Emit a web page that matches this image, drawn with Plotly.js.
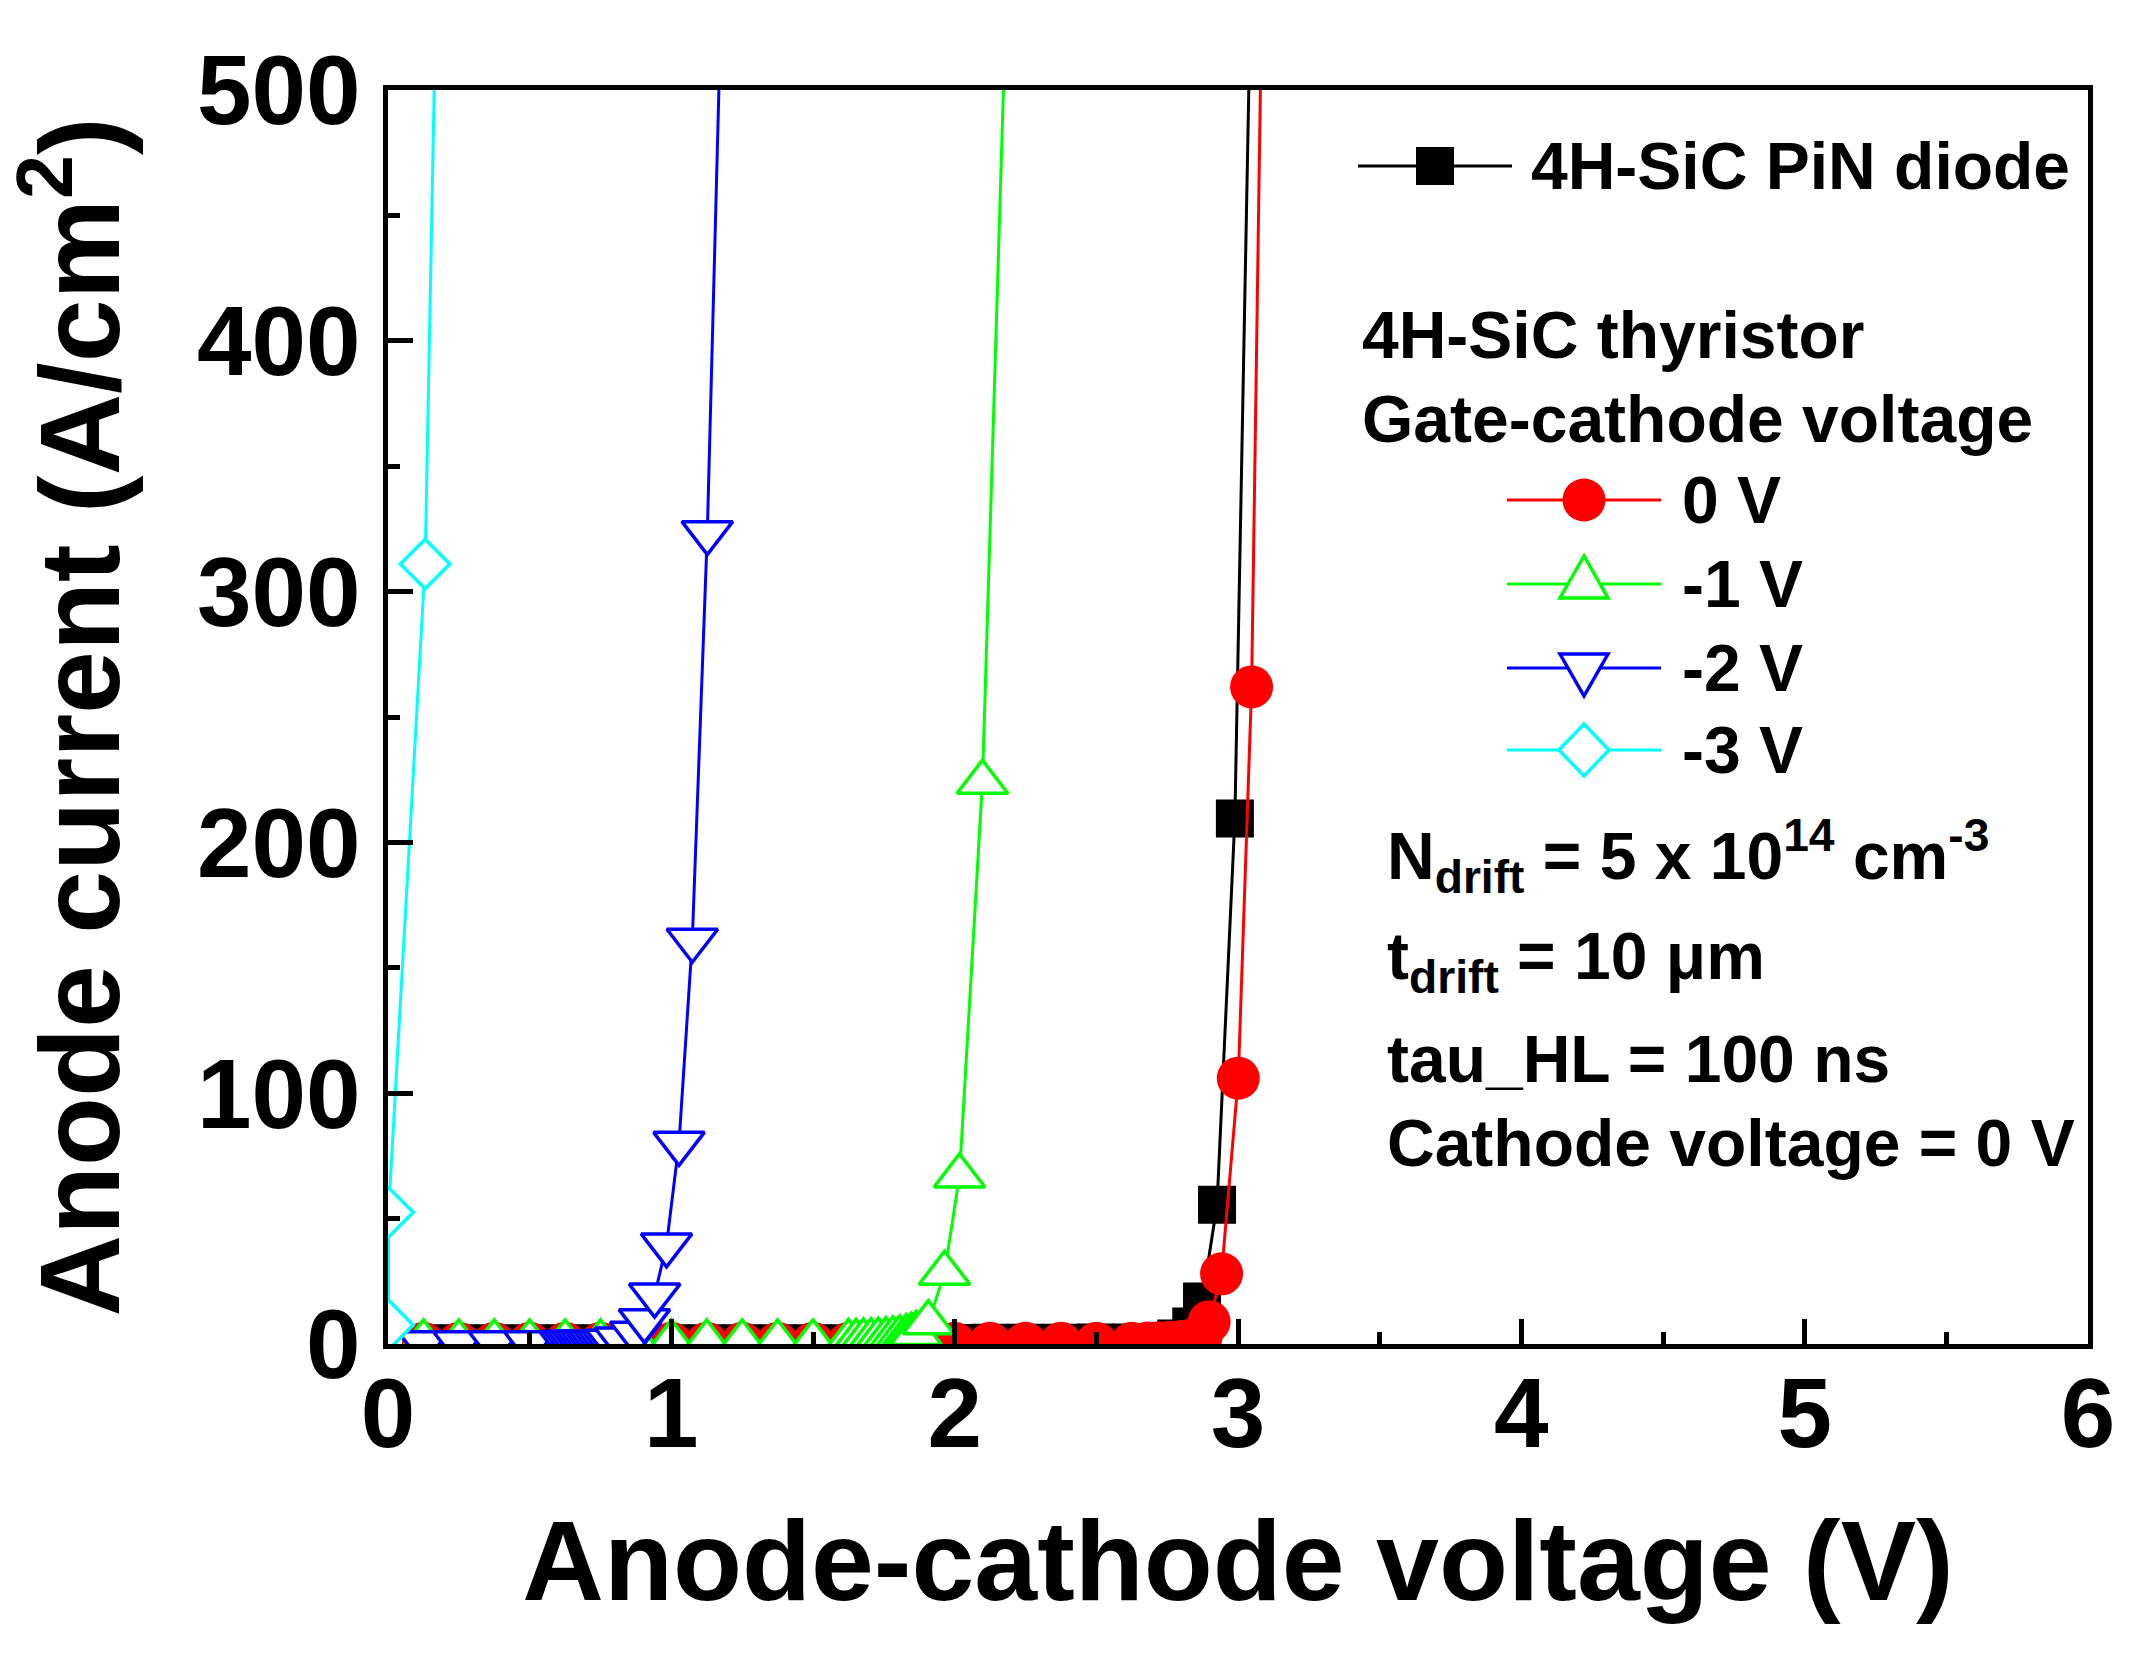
<!DOCTYPE html>
<html>
<head>
<meta charset="utf-8">
<script src="https://cdn.plot.ly/plotly-3.0.1.min.js"></script>
<style>
  html, body { margin: 0; padding: 0; background: #fff; }
  #chart { width: 2148px; height: 1654px; }
</style>
</head>
<body>
<div id="chart"></div>
<script>
// 4H-SiC PiN diode
const pinV = [0.125, 0.25, 0.375, 0.5, 0.625, 0.75, 0.875, 1.0, 1.125, 1.25, 1.375, 1.5, 1.625, 1.75, 1.875, 2.0, 2.125, 2.25, 2.375, 2.5, 2.625, 2.69, 2.735, 2.782, 2.835, 2.873, 2.926, 2.989, 3.055];
const pinJ = [0.3, 0.3, 0.3, 0.3, 0.3, 0.3, 0.3, 0.3, 0.3, 0.3, 0.3, 0.3, 0.3, 0.4, 0.4, 0.4, 0.5, 0.5, 0.5, 0.6, 0.6, 0.8, 1.2, 2.2, 7.0, 16.9, 55.5, 209.5, 600];

// thyristor, gate-cathode 0 V
const gate0V = [0.125, 0.25, 0.375, 0.5, 0.625, 0.75, 0.875, 1.0, 1.125, 1.25, 1.375, 1.5, 1.625, 1.75, 1.875, 2.0, 2.125, 2.25, 2.375, 2.5, 2.625, 2.68, 2.72, 2.76, 2.8, 2.84, 2.87, 2.898, 2.942, 3.001, 3.048, 3.092];
const gate0J = [0.3, 0.3, 0.3, 0.3, 0.3, 0.3, 0.3, 0.3, 0.3, 0.3, 0.3, 0.3, 0.3, 0.3, 0.3, 0.3, 0.3, 0.3, 0.3, 0.3, 0.3, 0.4, 0.5, 0.7, 1.0, 1.8, 3.0, 8.9, 28, 106, 262, 600];

// -1 V
const gateM1V = [0.125, 0.25, 0.375, 0.5, 0.625, 0.75, 0.875, 1.0, 1.125, 1.25, 1.375, 1.5, 1.625, 1.652, 1.678, 1.705, 1.73, 1.757, 1.782, 1.806, 1.829, 1.847, 1.864, 1.907, 1.964, 2.017, 2.098, 2.199];
const gateM1J = [0.8, 0.8, 0.8, 0.8, 0.8, 0.8, 0.8, 0.8, 0.8, 0.8, 0.8, 0.8, 1.0, 1.0, 1.2, 1.3, 1.5, 1.7, 2.0, 2.4, 2.9, 3.5, 4.2, 8.5, 28.2, 67, 224, 600];

// -2 V
const gateM2V = [0.125, 0.25, 0.375, 0.5, 0.625, 0.64, 0.655, 0.67, 0.685, 0.7, 0.715, 0.73, 0.745, 0.76, 0.775, 0.79, 0.82, 0.874, 0.905, 0.941, 0.983, 1.027, 1.074, 1.127, 1.191];
const gateM2J = [0.5, 0.5, 0.5, 0.5, 0.6, 0.6, 0.6, 0.7, 0.7, 0.7, 0.8, 0.8, 0.9, 0.9, 1.0, 1.1, 2.0, 4.3, 9.3, 19.5, 39.5, 80, 161, 323.5, 600];

// -3 V
const gateM3V = [0.002, 0.002, 0.131, 0.18];
const gateM3J = [7.6, 52.5, 311, 600];

const seriesNames = ['4H-SiC PiN diode', '0 V', '-1 V', '-2 V', '-3 V'];
const seriesColors = ['#000000', '#ff0000', '#00ff00', '#0000ff', '#00ffff'];

const xTickVals = [0, 1, 2, 3, 4, 5, 6];
const yTickVals = [0, 100, 200, 300, 400, 500];

const notes = [
    'N<sub>drift</sub> = 5 x 10<sup>14</sup> cm<sup>-3</sup>',
    't<sub>drift</sub> = 10 \u03bcm',
    'tau_HL = 100 ns',
    'Cathode voltage = 0 V'
];

// plot box in page pixels
const PLOT_L = 388, PLOT_R = 2088, PLOT_T = 90, PLOT_B = 1344;
const PLOT_W = PLOT_R - PLOT_L, PLOT_H = PLOT_B - PLOT_T;
function px(x) { return (x - PLOT_L) / PLOT_W; }
function py(y) { return (PLOT_B - y) / PLOT_H; }

const FONT = 'Liberation Sans, Arial, sans-serif';

function makeTrace(x, y, i, symbol, size, filled) {
    return {
        x: x, y: y,
        type: 'scatter',
        mode: 'lines+markers',
        name: seriesNames[i],
        showlegend: false,
        line: { color: seriesColors[i], width: 3 },
        marker: {
            symbol: symbol,
            size: size,
            color: filled ? seriesColors[i] : '#ffffff',
            line: { color: seriesColors[i], width: filled ? 0 : 3.5 }
        }
    };
}

const traces = [
    makeTrace(pinV, pinJ, 0, 'square', 38, true),
    makeTrace(gate0V, gate0J, 1, 'circle', 43, true),
    makeTrace(gateM1V, gateM1J, 2, 'triangle-up', 44, false),
    makeTrace(gateM2V, gateM2J, 3, 'triangle-down', 44, false),
    makeTrace(gateM3V, gateM3J, 4, 'diamond', 38, false)
];

// hand-drawn legend: key glyphs sized like the plot symbols
const glyphPaths = {
    'triangle-up': 'M-24,-14L24,-14L0,28Z',
    'triangle-down': 'M-24,14L24,14L0,-28Z',
    'diamond': 'M-25,0L0,26L25,0L0,-26Z'
};
const legendRows = [
    { i: 0, sym: 'square', cx: 1435, cy: 166, x0: 1358, x1: 1512, tx: 1529 },
    { i: 1, sym: 'circle', cx: 1584, cy: 500, x0: 1507, x1: 1661, tx: 1680 },
    { i: 2, sym: 'triangle-up', cx: 1584, cy: 584, x0: 1507, x1: 1661, tx: 1680 },
    { i: 3, sym: 'triangle-down', cx: 1584, cy: 668, x0: 1507, x1: 1661, tx: 1680 },
    { i: 4, sym: 'diamond', cx: 1584, cy: 750, x0: 1507, x1: 1661, tx: 1680 }
];

const shapes = [];
const annotations = [];
const textFont = { family: FONT, size: 66, color: '#000', weight: 700 };

legendRows.forEach(function (r) {
    const c = seriesColors[r.i];
    shapes.push({
        type: 'line', xref: 'paper', yref: 'paper', layer: 'above',
        x0: px(r.x0), x1: px(r.x1), y0: py(r.cy), y1: py(r.cy),
        line: { color: c, width: 3 }
    });
    const base = {
        xref: 'paper', yref: 'paper', layer: 'above',
        xsizemode: 'pixel', ysizemode: 'pixel',
        xanchor: px(r.cx), yanchor: py(r.cy)
    };
    if (r.sym === 'square') {
        shapes.push(Object.assign({}, base, { type: 'rect', x0: -19, x1: 19, y0: -19, y1: 19, fillcolor: c, line: { width: 0 } }));
    } else if (r.sym === 'circle') {
        shapes.push(Object.assign({}, base, { type: 'circle', x0: -21.5, x1: 21.5, y0: -21.5, y1: 21.5, fillcolor: c, line: { width: 0 } }));
    } else {
        shapes.push(Object.assign({}, base, { type: 'path', path: glyphPaths[r.sym], fillcolor: '#ffffff', line: { color: c, width: 3.5 } }));
    }
    annotations.push({
        xref: 'paper', yref: 'paper', x: px(r.tx), y: py(r.cy),
        xanchor: 'left', yanchor: 'middle', showarrow: false,
        text: seriesNames[r.i], font: textFont
    });
});

annotations.push({
    xref: 'paper', yref: 'paper', x: px(1360), y: py(335),
    xanchor: 'left', yanchor: 'middle', showarrow: false,
    text: '4H-SiC thyristor', font: textFont
});
annotations.push({
    xref: 'paper', yref: 'paper', x: px(1360), y: py(419),
    xanchor: 'left', yanchor: 'middle', showarrow: false,
    text: 'Gate-cathode voltage', font: textFont
});

const noteRows = [856, 961, 1059, 1143];
notes.forEach(function (t, k) {
    annotations.push({
        xref: 'paper', yref: 'paper', x: px(1385), y: py(noteRows[k]),
        xanchor: 'left', yanchor: 'middle', showarrow: false,
        text: t, font: textFont
    });
});

const axisCommon = {
    showgrid: false,
    zeroline: false,
    showline: true,
    linecolor: '#000',
    linewidth: 5,
    mirror: true,
    ticks: 'inside',
    ticklen: 25,
    tickwidth: 5,
    tickcolor: '#000',
    automargin: false,
    tickfont: { family: FONT, size: 98, color: '#000', weight: 700 }
};

const layout = {
    width: 2148,
    height: 1654,
    margin: { l: PLOT_L, r: 2148 - PLOT_R, t: PLOT_T, b: 1654 - PLOT_B },
    paper_bgcolor: '#fff',
    plot_bgcolor: '#fff',
    showlegend: false,
    xaxis: Object.assign({}, axisCommon, {
        range: [0, 6],
        tickvals: xTickVals,
        ticklabelstandoff: -20,
        minor: { dtick: 0.5, ticks: 'inside', ticklen: 12, tickwidth: 5, tickcolor: '#000' },
        title: { text: 'Anode-cathode voltage (V)', standoff: 56, font: { family: FONT, size: 113, color: '#000', weight: 700 } }
    }),
    yaxis: Object.assign({}, axisCommon, {
        range: [0, 500],
        tickvals: yTickVals,
        ticklabelstandoff: 3,
        minor: { dtick: 50, ticks: 'inside', ticklen: 12, tickwidth: 5, tickcolor: '#000' },
        title: { text: 'Anode current (A/cm<sup>2</sup>)', standoff: 49, font: { family: FONT, size: 113, color: '#000', weight: 700 } }
    }),
    shapes: shapes,
    annotations: annotations
};

Plotly.newPlot('chart', traces, layout, { staticPlot: true, displayModeBar: false });
</script>
</body>
</html>
